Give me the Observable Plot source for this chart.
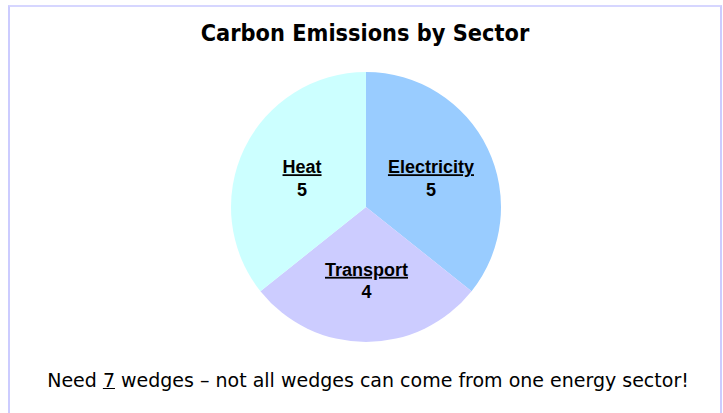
<!DOCTYPE html>
<html><head><meta charset="utf-8">
<script src="https://cdn.jsdelivr.net/npm/d3@7"></script>
<script src="https://cdn.jsdelivr.net/npm/@observablehq/plot@0.6"></script>
<style>
body{margin:0;background:#fff;}
#frame{position:absolute;left:8px;top:5px;width:714px;height:420px;box-sizing:border-box;border:2px solid #ccccff;border-top-color:#d6d6ff;border-bottom:none;background:#fff;}
#title{height:52px;line-height:52px;text-align:center;font-family:"DejaVu Sans Condensed","DejaVu Sans",sans-serif;font-stretch:condensed;font-weight:bold;font-size:23.3px;color:#000;white-space:nowrap;}
#chart svg{display:block;}
#caption{height:50px;line-height:50px;text-align:center;font-family:"DejaVu Sans",sans-serif;font-size:19px;color:#000;white-space:nowrap;padding-left:6px;}
</style>
</head><body>
<div id="frame">
  <div id="title">Carbon Emissions by Sector</div>
  <div id="chart"></div>
  <div id="caption">Need <u>7</u> wedges – not all wedges can come from one energy sector!</div>
</div>
<script>
const sectors = ["Electricity", "Transport", "Heat"];
const values = [5, 4, 5];
const colors = ["#99ccff", "#ccccff", "#ccffff"];

const data = sectors.map((s, i) => ({sector: s, value: values[i]}));
const arcs = d3.pie().sort(null).value(d => d.value)(data);
const labelR = 0.53;
const labels = arcs.map(a => {
  const m = (a.startAngle + a.endAngle) / 2;
  return {sector: a.data.sector, value: a.data.value, x: Math.sin(m) * labelR, y: Math.cos(m) * labelR};
});

const W = 710, H = 296, R = 135, CX = 356, CY = 148;

const pieMark = (index, scales) => {
  const x = scales.x, y = scales.y, color = scales.color;
  const cx = x(0), cy = y(0), r = x(1) - x(0);
  const arc = d3.arc().innerRadius(0).outerRadius(r);
  const g = d3.create("svg:g").attr("transform", `translate(${cx},${cy})`);
  g.selectAll("path").data(arcs).join("path")
    .attr("d", arc)
    .attr("fill", d => color ? color(d.data.sector) : colors[sectors.indexOf(d.data.sector)]);
  return g.node();
};

const chart = Plot.plot({
  width: W,
  height: H,
  marginLeft: CX - R,
  marginRight: W - CX - R,
  marginTop: CY - R,
  marginBottom: H - CY - R,
  x: {domain: [-1, 1], axis: null},
  y: {domain: [-1, 1], axis: null},
  color: {domain: sectors, range: colors},
  style: {fontFamily: "'Liberation Sans', Arial, sans-serif", background: "transparent"},
  marks: [
    Plot.dot(data, {x: () => 0, y: () => 0, fill: "sector", r: 0}),
    pieMark,
    Plot.text(labels, {x: "x", y: "y", text: "sector", dy: -9, fontSize: 18, fontWeight: "bold", fill: "#000"}),
    Plot.text(labels, {x: "x", y: "y", text: d => String(d.value), dy: 13.5, fontSize: 18, fontWeight: "bold", fill: "#000"})
  ]
});
const textGroups = d3.select(chart).selectAll('g[aria-label="text"]').nodes();
if (textGroups.length) d3.select(textGroups[0]).selectAll("text").style("text-decoration", "underline");
document.getElementById("chart").appendChild(chart);
</script>
</body></html>
